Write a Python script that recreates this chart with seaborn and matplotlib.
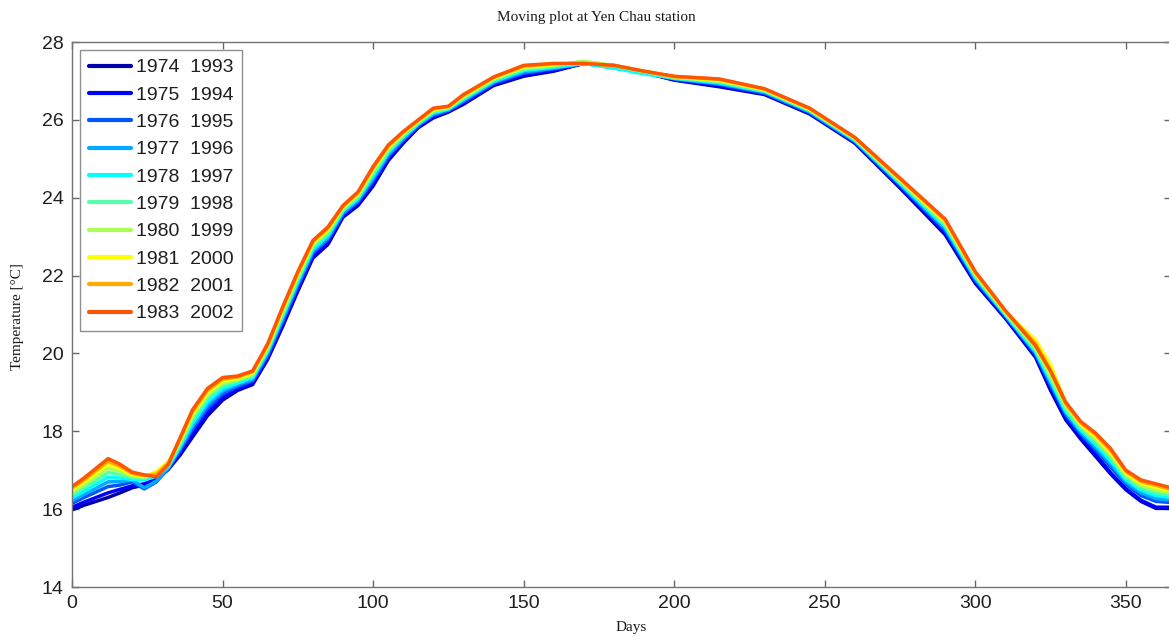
import numpy as np
import pandas as pd
import seaborn as sns
import matplotlib
matplotlib.use("Agg")
import matplotlib.pyplot as plt

# Day of year at which each 20-year moving-window mean was sampled
days = [0, 4, 8, 12, 16, 20, 24, 28, 32, 36, 40,
        45, 50, 55, 60, 65, 70, 75, 80, 85, 90, 95, 100, 105, 110, 115, 120, 125, 130,
        140, 150, 160, 170, 180, 190, 200,
        215, 230, 245, 260, 275, 290,
        300, 310, 320,
        325, 330, 335, 340, 345, 350, 355, 360, 365]

periods = ["1974  1993", "1975  1994", "1976  1995", "1977  1996", "1978  1997",
           "1979  1998", "1980  1999", "1981  2000", "1982  2001", "1983  2002"]

t1974 = [15.98, 16.10, 16.20, 16.30, 16.42, 16.55, 16.62, 16.76, 17.02, 17.40, 17.85,
         18.40, 18.80, 19.05, 19.20, 19.85, 20.70, 21.60, 22.45, 22.80, 23.50, 23.80, 24.30, 24.95, 25.40, 25.80, 26.05, 26.20, 26.40,
         26.88, 27.12, 27.25, 27.45, 27.38, 27.22, 27.02,
         26.85, 26.65, 26.15, 25.40, 24.25, 23.05,
         21.80, 20.90, 19.90,
         19.05, 18.30, 17.80, 17.35, 16.90, 16.50, 16.20, 16.02, 16.02]
t1975 = [16.05, 16.18, 16.30, 16.42, 16.51, 16.60, 16.65, 16.77, 17.04, 17.45, 17.93,
         18.48, 18.87, 19.09, 19.24, 19.90, 20.76, 21.66, 22.50, 22.85, 23.54, 23.84, 24.36, 25.00, 25.44, 25.82, 26.08, 26.22, 26.43,
         26.91, 27.15, 27.27, 27.45, 27.38, 27.22, 27.03,
         26.87, 26.67, 26.17, 25.42, 24.28, 23.10,
         21.84, 20.92, 19.94,
         19.11, 18.35, 17.85, 17.42, 16.93, 16.53, 16.23, 16.05, 16.05]
t1976 = [16.15, 16.30, 16.44, 16.58, 16.62, 16.70, 16.52, 16.70, 17.05, 17.53, 18.05,
         18.60, 18.96, 19.15, 19.30, 19.96, 20.84, 21.74, 22.58, 22.93, 23.58, 23.90, 24.44, 25.06, 25.48, 25.86, 26.12, 26.24, 26.47,
         26.94, 27.20, 27.31, 27.45, 27.38, 27.23, 27.05,
         26.91, 26.69, 26.19, 25.44, 24.32, 23.16,
         21.88, 20.96, 19.98,
         19.19, 18.43, 17.93, 17.52, 17.08, 16.64, 16.35, 16.20, 16.17]
t1977 = [16.22, 16.38, 16.54, 16.70, 16.71, 16.75, 16.55, 16.72, 17.07, 17.58, 18.13,
         18.68, 19.03, 19.20, 19.34, 20.01, 20.90, 21.80, 22.63, 22.98, 23.62, 23.94, 24.50, 25.11, 25.52, 25.88, 26.15, 26.26, 26.50,
         26.97, 27.23, 27.33, 27.45, 27.33, 27.23, 27.06,
         26.93, 26.71, 26.21, 25.46, 24.35, 23.21,
         21.92, 20.98, 20.02,
         19.25, 18.48, 17.98, 17.59, 17.16, 16.70, 16.42, 16.27, 16.23]
t1978 = [16.29, 16.46, 16.64, 16.82, 16.80, 16.76, 16.75, 16.85, 17.09, 17.63, 18.21,
         18.76, 19.10, 19.24, 19.38, 20.06, 20.96, 21.86, 22.68, 23.03, 23.66, 23.98, 24.56, 25.16, 25.56, 25.90, 26.18, 26.28, 26.53,
         26.99, 27.27, 27.35, 27.45, 27.33, 27.18, 27.07,
         26.95, 26.73, 26.23, 25.48, 24.38, 23.26,
         21.96, 21.00, 20.06,
         19.31, 18.53, 18.03, 17.66, 17.24, 16.76, 16.49, 16.35, 16.30]
t1979 = [16.36, 16.55, 16.74, 16.94, 16.89, 16.81, 16.79, 16.90, 17.12, 17.69, 18.30,
         18.85, 19.17, 19.29, 19.42, 20.11, 21.02, 21.92, 22.74, 23.09, 23.69, 24.02, 24.62, 25.21, 25.59, 25.93, 26.21, 26.30, 26.56,
         27.02, 27.30, 27.38, 27.50, 27.39, 27.24, 27.08,
         26.98, 26.75, 26.25, 25.50, 24.41, 23.31,
         21.99, 21.03, 20.09,
         19.37, 18.59, 18.09, 17.73, 17.32, 16.82, 16.55, 16.42, 16.36]
t1980 = [16.43, 16.63, 16.84, 17.05, 16.97, 16.85, 16.82, 16.95, 17.18, 17.74, 18.38,
         18.93, 19.24, 19.33, 19.46, 20.15, 21.08, 21.98, 22.79, 23.14, 23.73, 24.06, 24.68, 25.25, 25.63, 25.95, 26.24, 26.31, 26.59,
         27.05, 27.33, 27.40, 27.50, 27.40, 27.24, 27.10,
         27.00, 26.76, 26.26, 25.52, 24.44, 23.35,
         22.03, 21.05, 20.15,
         19.43, 18.64, 18.14, 17.80, 17.39, 16.88, 16.61, 16.49, 16.42]
t1981 = [16.49, 16.70, 16.92, 17.15, 17.04, 16.89, 16.84, 16.96, 17.22, 17.78, 18.45,
         19.00, 19.29, 19.36, 19.50, 20.19, 21.13, 22.03, 22.83, 23.18, 23.76, 24.10, 24.73, 25.29, 25.66, 25.97, 26.26, 26.33, 26.61,
         27.07, 27.36, 27.42, 27.45, 27.40, 27.25, 27.11,
         27.02, 26.78, 26.28, 25.53, 24.46, 23.39,
         22.06, 21.07, 20.35,
         19.70, 18.75, 18.18, 17.86, 17.45, 16.93, 16.67, 16.56, 16.47]
t1982 = [16.54, 16.75, 16.99, 17.23, 17.10, 16.92, 16.86, 16.90, 17.18, 17.82, 18.50,
         19.05, 19.34, 19.39, 19.53, 20.22, 21.17, 22.07, 22.87, 23.22, 23.78, 24.13, 24.77, 25.32, 25.68, 25.99, 26.28, 26.34, 26.63,
         27.09, 27.38, 27.44, 27.45, 27.40, 27.25, 27.11,
         27.04, 26.79, 26.29, 25.54, 24.48, 23.42,
         22.08, 21.09, 20.25,
         19.55, 18.72, 18.22, 17.91, 17.50, 16.97, 16.71, 16.61, 16.51]
t1983 = [16.58, 16.80, 17.05, 17.30, 17.15, 16.95, 16.88, 16.83, 17.15, 17.85, 18.55,
         19.10, 19.38, 19.42, 19.55, 20.25, 21.20, 22.10, 22.90, 23.25, 23.80, 24.15, 24.80, 25.35, 25.70, 26.00, 26.30, 26.35, 26.65,
         27.10, 27.40, 27.45, 27.45, 27.40, 27.25, 27.12,
         27.05, 26.80, 26.30, 25.55, 24.50, 23.45,
         22.10, 21.10, 20.20,
         19.55, 18.75, 18.25, 17.95, 17.55, 17.00, 16.75, 16.65, 16.55]

series = [t1974, t1975, t1976, t1977, t1978, t1979, t1980, t1981, t1982, t1983]

# jet colour map sampled at ten levels
jet10 = [(0, 0, 0.6667), (0, 0, 1), (0, 0.3333, 1), (0, 0.6667, 1), (0, 1, 1),
         (0.3333, 1, 0.6667), (0.6667, 1, 0.3333), (1, 1, 0), (1, 0.6667, 0), (1, 0.3333, 0)]

df = pd.concat(
    [pd.DataFrame({"Days": days, "Temperature": vals, "Period": lab})
     for lab, vals in zip(periods, series)],
    ignore_index=True)

sns.set_theme(style="ticks")
plt.rcParams["font.family"] = ["Liberation Sans", "DejaVu Sans"]

W, H = 1169, 643
fig = plt.figure(figsize=(W / 100, H / 100), dpi=100)
ax = fig.add_axes([72 / W, 1 - 587 / H, (1171 - 72) / W, (587 - 42) / H])

sns.lineplot(data=df, x="Days", y="Temperature", hue="Period", hue_order=periods,
             palette=jet10, linewidth=2.5, estimator=None, sort=False, ax=ax)

ax.set_xlim(0, 365)
ax.set_ylim(14, 28)
ax.set_xticks(range(0, 351, 50))
ax.set_yticks(range(14, 29, 2))
ax.set_xlabel("")
ax.set_ylabel("")
ax.tick_params(direction="in", top=True, right=True, length=5, width=1,
               color="0.4", labelcolor="0.12", labelsize=14, pad=6)
for s in ax.spines.values():
    s.set_color("0.45")
    s.set_linewidth(1.0)

leg = ax.legend(loc="upper left", bbox_to_anchor=(8 / 1099, 1 - 8 / 545),
                borderaxespad=0, frameon=True, fancybox=False, fontsize=14,
                handlelength=2.15, handletextpad=0.28, labelspacing=0.5,
                borderpad=0.45)
leg.get_frame().set_edgecolor("0.45")
leg.get_frame().set_linewidth(1.0)
for h in leg.get_lines():
    h.set_linewidth(3.0)
for t in leg.get_texts():
    t.set_color("0.12")

serif = ["Liberation Serif", "DejaVu Serif"]
fig.text(596 / W, 1 - 17 / H, "Moving plot at Yen Chau station", ha="center",
         va="center", fontsize=11, family=serif, color="0.1")
fig.text(18 / W, 1 - 317 / H, "Temperature [°C]", ha="center", va="center",
         rotation=90, fontsize=11, family=serif, color="0.1")
fig.text(631 / W, 1 - 628 / H, "Days", ha="center", va="center",
         fontsize=11, family=serif, color="0.1")

fig.savefig("out.png", dpi=100)
